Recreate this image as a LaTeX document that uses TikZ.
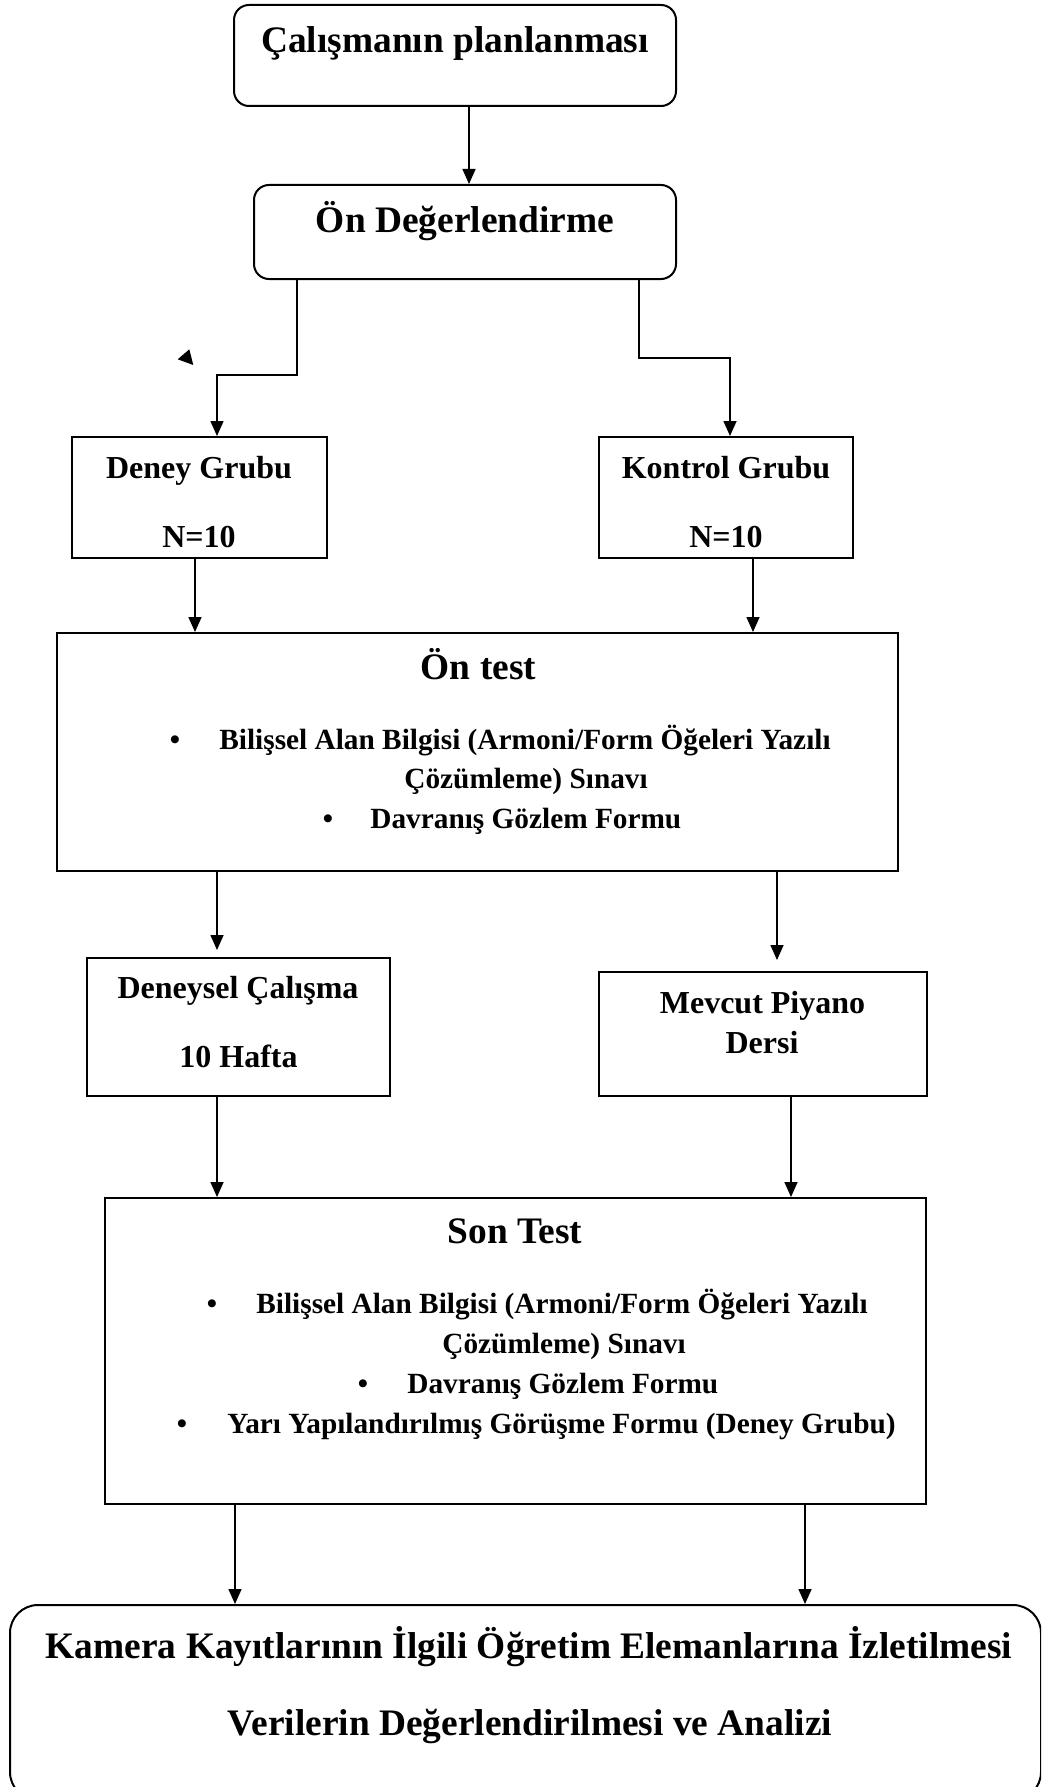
\documentclass[tikz,border=0pt]{standalone}
\usepackage{fontspec}
\setmainfont{Liberation Serif}
\usetikzlibrary{arrows.meta}

\tikzset{
  box/.style={draw, line width=1pt, inner sep=0pt},
  rbox/.style={box, rounded corners=7.5pt},
  arr/.style={-{Triangle[length=7.5pt,width=6.5pt]}, line width=0.8pt},
  big/.style={font=\fontsize{18.7}{22}\selectfont\bfseries, inner sep=0pt, anchor=base},
  mid/.style={font=\fontsize{16}{19}\selectfont\bfseries, inner sep=0pt, anchor=base},
  item/.style={font=\fontsize{14.65}{17}\selectfont\bfseries, inner sep=0pt, anchor=base west},
  dot/.style={font=\fontsize{14.65}{17}\selectfont\bfseries, inner sep=0pt, anchor=base}
}

\begin{document}
\begin{tikzpicture}[x=0.5pt, y=-0.5pt]
\useasboundingbox (0,0) rectangle (1041,1787);
\clip (0,0) rectangle (1041,1787);

\node[rbox, minimum width=221pt, minimum height=50.5pt] (plan) at (455,55.5) {};
\node[big] (planT) at (455,53) {Çalışmanın planlanması};

\node[rbox, minimum width=211pt, minimum height=47pt] (onDeg) at (465,232) {};
\node[big] (onDegT) at (465,233) {Ön Değerlendirme};

\draw[arr] (plan.south -| 469,0) -- (onDeg.north -| 469,0);

\node[box, minimum width=127.5pt, minimum height=60.5pt] (deney) at (199.5,497.5) {};
\node[mid] (deneyT) at (199,478) {Deney Grubu};
\node[mid] (deneyN) at (199,547) {N=10};

\node[box, minimum width=127pt, minimum height=60.5pt] (kontrol) at (726,497.5) {};
\node[mid] (kontrolT) at (726,478) {Kontrol Grubu};
\node[mid] (kontrolN) at (726,547) {N=10};

\draw[arr] (onDeg.south -| 297,0) -- (297,375) -- (217,375) -- (deney.north -| 217,0);
\draw[arr] (onDeg.south -| 639,0) -- (639,358) -- (730,358) -- (kontrol.north -| 730,0);
\fill (189.3,349.3) -- (177.7,359.3) -- (193.3,365) -- cycle;

\node[box, minimum width=420.5pt, minimum height=119pt] (onTest) at (477.5,752) {};
\node[big] (onTestT) at (478.5,679) {Ön test};
\node[dot] (onB1) at (175,749) {•};
\node[item] (onL1) at (219,749) {Bilişsel Alan Bilgisi (Armoni/Form Öğeleri Yazılı};
\node[item] (onL2) at (404,788) {Çözümleme) Sınavı};
\node[dot] (onB3) at (328,828) {•};
\node[item] (onL3) at (370,828) {Davranış Gözlem Formu};

\draw[arr] (deney.south -| 195,0) -- (onTest.north -| 195,0);
\draw[arr] (kontrol.south -| 753,0) -- (onTest.north -| 753,0);

\node[box, minimum width=151.5pt, minimum height=69pt] (deneysel) at (238.5,1027) {};
\node[mid] (deneyselT) at (238,998) {Deneysel Çalışma};
\node[mid] (deneyselH) at (238.5,1067) {10 Hafta};

\node[box, minimum width=164pt, minimum height=62pt] (mevcut) at (763,1034) {};
\node[mid] (mevcutT) at (762.5,1013) {Mevcut Piyano};
\node[mid] (mevcutD) at (762,1053) {Dersi};

\draw[arr, shorten >=3.5pt] (onTest.south -| 217,0) -- (deneysel.north -| 217,0);
\draw[arr, shorten >=5.5pt] (onTest.south -| 777,0) -- (mevcut.north -| 777,0);

\node[box, minimum width=410.5pt, minimum height=153pt] (sonTest) at (515.5,1351) {};
\node[big] (sonTestT) at (515,1243) {Son Test};
\node[dot] (sonB1) at (212,1313) {•};
\node[item] (sonL1) at (256,1313) {Bilişsel Alan Bilgisi (Armoni/Form Öğeleri Yazılı};
\node[item] (sonL2) at (442,1353) {Çözümleme) Sınavı};
\node[dot] (sonB3) at (363,1393) {•};
\node[item] (sonL3) at (407,1393) {Davranış Gözlem Formu};
\node[dot] (sonB4) at (182,1433) {•};
\node[item] (sonL4) at (227,1433) {Yarı Yapılandırılmış Görüşme Formu (Deney Grubu)};

\draw[arr] (deneysel.south -| 217,0) -- (sonTest.north -| 217,0);
\draw[arr] (mevcut.south -| 791,0) -- (sonTest.north -| 791,0);

\node[box, rounded corners=14pt, minimum width=515.5pt, minimum height=97.5pt] (analiz) at (525.5,1702.5) {};
\node[big] (analizT) at (529,1658) {Kamera Kayıtlarının İlgili Öğretim Elemanlarına İzletilmesi};
\node[big] (analizV) at (530,1735) {Verilerin Değerlendirilmesi ve Analizi};

\draw[arr] (sonTest.south -| 235,0) -- (analiz.north -| 235,0);
\draw[arr] (sonTest.south -| 805,0) -- (analiz.north -| 805,0);
\end{tikzpicture}
\end{document}
